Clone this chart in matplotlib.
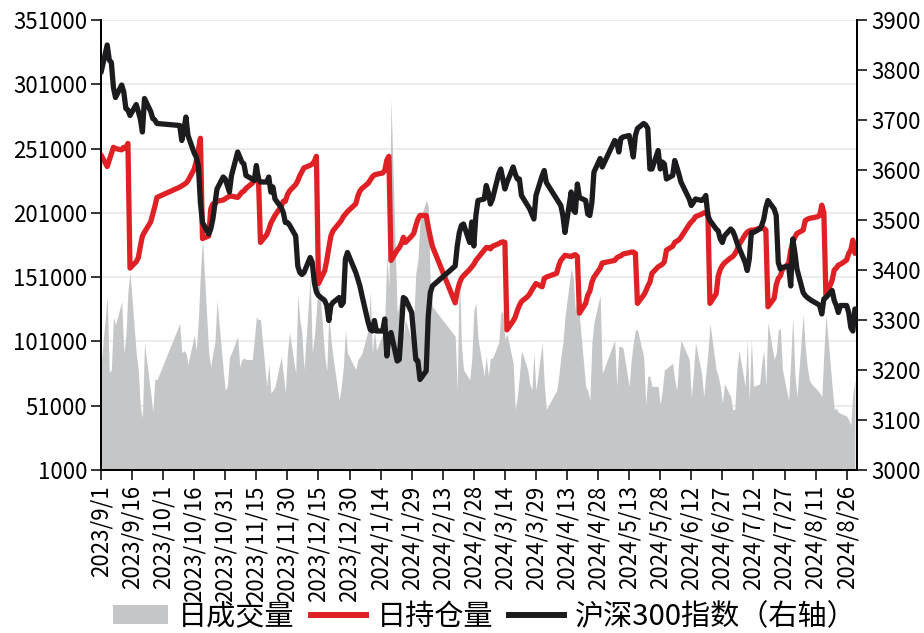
import numpy as np
import pandas as pd
import matplotlib
matplotlib.use("Agg")
import matplotlib.pyplot as plt
from matplotlib.patches import Patch
from matplotlib.lines import Line2D

plt.rcParams['font.family'] = ['Noto Sans CJK SC', 'DejaVu Sans']

# ---- trading calendar (x categories) ----
holidays = ["2023-09-29", "2023-10-02", "2023-10-03", "2023-10-04", "2023-10-05", "2023-10-06",
            "2024-01-01", "2024-02-09", "2024-02-12", "2024-02-13", "2024-02-14", "2024-02-15",
            "2024-02-16", "2024-04-04", "2024-04-05", "2024-05-01", "2024-05-02", "2024-05-03",
            "2024-06-10"]
dates = pd.bdate_range("2023-09-01", "2024-08-30")
dates = dates[~dates.isin(pd.to_datetime(holidays))]

# ---- daily volume (thousand lots) ----
volume_k = [
    # Sep
    82, 136, 77, 79, 120, 114, 132, 92, 105, 140, 155, 92, 79, 50, 42, 100, 61, 46, 72, 71,
    # Oct
    115, 92, 94, 92, 83, 106, 94, 118, 154, 181, 92, 81, 92, 100, 133, 79, 63,
    # Nov
    66, 89, 92, 105, 81, 87, 88, 87, 87, 102, 120, 118, 118, 66, 84, 61, 63, 66, 89, 76, 61, 92,
    # Dec
    108, 76, 138, 118, 107, 79, 151, 92, 105, 125, 155, 90, 78, 123, 102, 89, 55, 66, 81, 110, 92,
    # Jan
    79, 87, 89, 92, 110, 140, 92, 110, 94, 107, 118, 168, 143, 290, 123, 131, 138, 105, 118, 102, 118, 154,
    # Feb
    164, 195, 211, 206, 143, 128, 105, 63, 160, 99, 79, 71, 87, 125, 131,
    # Mar
    103, 74, 90, 74, 88, 88, 100, 123, 125, 103, 107, 84, 48, 58, 74, 94, 79, 68, 63, 92, 63,
    # Apr
    100, 68, 48, 63, 74, 89, 100, 120, 158, 150, 125, 136, 120, 66, 63, 55, 100, 116, 137, 76,
    # May
    102, 66, 97, 97, 96, 66, 87, 100, 110, 110, 89, 52, 74, 74, 66, 66, 52, 63, 79, 80,
    # Jun
    84, 71, 63, 87, 102, 87, 58, 76, 100, 76, 58, 76, 92, 115, 79, 74, 66, 53, 68,
    # Jul
    58, 48, 48, 79, 94, 66, 102, 55, 103, 66, 68, 84, 94, 66, 116, 87, 92, 110, 111, 79, 55, 87, 120,
    # Aug
    76, 58, 122, 97, 81, 71, 68, 63, 61, 58, 92, 122, 66, 48, 49, 46, 45, 43, 40, 36, 61, 71,
]

# ---- daily open interest (thousand lots) ----
open_interest_k = [
    # Sep
    246, 237, 242, 247, 252, 251, 250, 252, 251, 255, 158, 163, 166, 175, 183, 186, 194, 200, 206, 213,
    # Oct
    221, 222, 223, 224, 226, 235, 241, 250, 259, 181, 183, 204, 208, 208, 210, 211, 212,
    # Nov
    213, 214, 214, 213, 215, 217, 218, 220, 224, 226, 228, 229, 178, 184, 188, 193, 196, 199, 206, 210, 210, 215,
    # Dec
    218, 223, 226, 230, 233, 236, 238, 239, 241, 245, 146, 156, 164, 174, 183, 187, 193, 195, 198, 200, 202,
    # Jan
    208, 214, 218, 220, 224, 226.5, 229, 230.5, 231, 232, 234, 242, 245, 164, 172, 174, 177, 182, 178, 183, 185, 191,
    # Feb
    196, 199, 199, 190, 182, 175, 131, 140, 146, 150, 152, 157, 159, 161, 164,
    # Mar
    166, 172, 174, 174, 173, 175, 177, 178, 178.5, 178, 110, 117, 120, 125, 129, 132, 136, 138, 141, 143.5, 146,
    # Apr
    143.5, 150, 151, 154, 160, 164, 166, 168, 167, 168, 168.5, 167, 123, 130.6, 137, 140, 147, 151, 158, 162,
    # May
    164, 166, 167, 167.5, 169, 170, 170.5, 170.5, 169.5, 130.6, 137, 140, 144, 147, 154, 159, 160, 161, 163, 172,
    # Jun
    175, 178, 179, 180, 182, 192, 194, 195.5, 198, 200, 201, 201, 201, 130.6, 138, 152, 157, 160, 162,
    # Jul
    166, 167, 169, 172, 176, 184, 186, 187, 187.6, 187.6, 189, 189, 189, 187.6, 128, 134.5, 145, 150, 152, 157,
    161.7, 172, 178.5,
    # Aug
    182, 185, 187.6, 195, 196, 196.7, 197, 198, 199, 207, 201, 136, 148.7, 156.5, 158, 160.4, 161, 164.3, 169.5,
    172, 179.8, 169.5,
]

# ---- CSI 300 index close (right axis) ----
csi300 = [
    # Sep
    3795, 3850, 3820, 3815, 3765, 3745, 3770, 3756, 3723, 3720, 3709, 3731, 3717, 3702, 3676, 3743, 3717, 3703, 3700, 3693,
    # Oct
    3689, 3659, 3680, 3706, 3669, 3634, 3626, 3609, 3535, 3495, 3472, 3482, 3502, 3532, 3562, 3586, 3582,
    # Nov
    3569, 3556, 3589, 3636, 3626, 3616, 3612, 3589, 3582, 3579, 3609, 3582, 3576, 3576, 3586, 3556, 3566, 3542, 3525,
    3515, 3495, 3495,
    # Dec
    3490, 3468, 3408, 3395, 3391, 3395, 3425, 3415, 3375, 3356, 3349, 3339, 3329, 3299, 3329, 3335, 3345, 3329, 3335,
    3422, 3435,
    # Jan
    3395, 3382, 3368, 3349, 3295, 3281, 3278, 3299, 3278, 3278, 3302, 3228, 3268, 3275, 3218, 3221, 3281, 3345, 3342,
    3315, 3268, 3221,
    # Feb
    3218, 3181, 3198, 3308, 3355, 3368, 3408, 3448, 3475, 3489, 3492, 3455, 3496, 3448, 3509,
    # Mar
    3539, 3542, 3569, 3555, 3532, 3542, 3592, 3602, 3582, 3562, 3575, 3606, 3592, 3582, 3582, 3549, 3529, 3522, 3512,
    3502, 3549,
    # Apr
    3589, 3599, 3575, 3542, 3535, 3529, 3509, 3475, 3556, 3520, 3515, 3572, 3545, 3539, 3512, 3509, 3535, 3596, 3623, 3606,
    # May
    3659, 3656, 3636, 3663, 3666, 3669, 3649, 3626, 3669, 3683, 3693, 3690, 3683, 3602, 3602, 3639, 3602, 3616, 3612, 3582,
    # Jun
    3589, 3619, 3606, 3592, 3576, 3542, 3529, 3535, 3542, 3539, 3542, 3549, 3509, 3499, 3482, 3478, 3462, 3455, 3468,
    # Jul
    3482, 3478, 3468, 3455, 3445, 3415, 3399, 3422, 3475, 3475, 3482, 3489, 3502, 3525, 3539, 3522, 3509, 3415, 3402,
    3405, 3408, 3368, 3462,
    # Aug
    3435, 3402, 3355, 3349, 3345, 3342, 3339, 3332, 3329, 3312, 3342, 3345, 3359, 3339, 3329, 3315, 3329, 3329, 3315,
    3285, 3278, 3322,
]

left_ticks = list(range(1000, 351001, 50000))
right_ticks = list(range(3000, 3901, 100))
x_tick_dates = pd.date_range("2023-09-01", "2024-08-26", freq="15D")
x_tick_labels = [f"{d.year}/{d.month}/{d.day}" for d in x_tick_dates]
legend_labels = ["日成交量", "日持仓量", "沪深300指数（右轴）"]

volume = np.array(volume_k) * 1000
open_interest = np.array(open_interest_k) * 1000

GRAY = "#C5C6C8"
RED = "#DF2126"
BLACK = "#1C1C1E"

fig = plt.figure(figsize=(9.24, 6.33), dpi=100)
ax = fig.add_axes([101 / 924, 1 - 470 / 633, (857 - 101) / 924, (470 - 20) / 633])
ax2 = ax.twinx()

ax.fill_between(dates, left_ticks[0], volume, color=GRAY, linewidth=0, zorder=2)
ax.plot(dates, open_interest, color=RED, linewidth=3.8, solid_joinstyle="round",
        solid_capstyle="round", zorder=3)
ax2.plot(dates, csi300, color=BLACK, linewidth=3.8, solid_joinstyle="round",
         solid_capstyle="round", zorder=4)

ax.set_xlim(pd.Timestamp("2023-09-01"), pd.Timestamp("2024-08-31"))
ax.set_ylim(left_ticks[0], left_ticks[-1])
ax2.set_ylim(right_ticks[0], right_ticks[-1])
ax.set_yticks(left_ticks)
ax.set_yticklabels([str(v) for v in left_ticks])
ax2.set_yticks(right_ticks)
ax2.set_yticklabels([str(v) for v in right_ticks])
ax.set_xticks(x_tick_dates)
ax.set_xticklabels(x_tick_labels, rotation=90)

ax.set_axisbelow(True)
ax.grid(axis="y", color="#E9E9E9", linewidth=1.2, zorder=0)
ax.grid(axis="x", visible=False)

for a in (ax, ax2):
    a.spines["top"].set_visible(False)
    for s in ("left", "right", "bottom"):
        a.spines[s].set_color("black")
        a.spines[s].set_linewidth(1.3)
    a.tick_params(direction="out", length=7, width=1.1, colors="black", labelsize=16, pad=3)
ax.tick_params(axis="x", pad=4)

handles = [Patch(facecolor=GRAY, edgecolor="none"),
           Line2D([], [], color=RED, linewidth=4.3),
           Line2D([], [], color=BLACK, linewidth=4.3)]
fig.legend(handles, legend_labels, loc="center", bbox_to_anchor=(484.5 / 924, 1 - 617 / 633),
           ncol=3, frameon=False, fontsize=21, handlelength=1.9, handleheight=0.6,
           handletextpad=0.35, columnspacing=0.55, borderaxespad=0, borderpad=0)

fig.savefig("out.png", dpi=100)
